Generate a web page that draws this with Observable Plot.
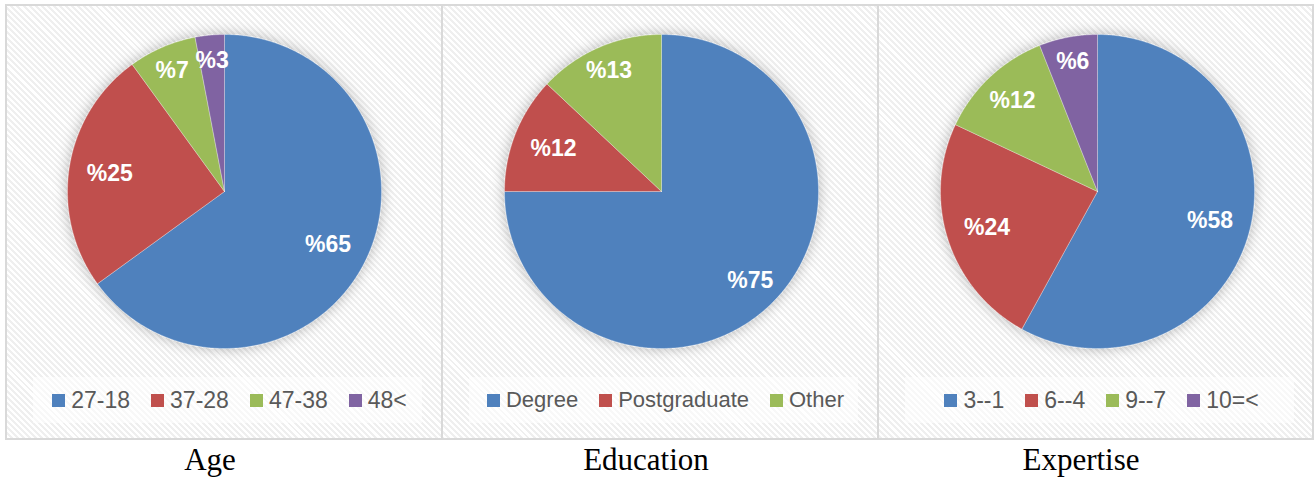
<!DOCTYPE html>
<html><head><meta charset="utf-8">
<script src="https://cdn.jsdelivr.net/npm/d3@7"></script>
<script src="https://cdn.jsdelivr.net/npm/@observablehq/plot@0.6"></script>
<style>
html,body{margin:0;padding:0;background:#fff;}
body{width:1315px;height:479px;position:relative;overflow:hidden;font-family:"Liberation Sans",Arial,sans-serif;}
#frame{position:absolute;left:5px;top:4px;width:1309px;height:436px;box-sizing:border-box;border:2px solid #d9d9d9;
 background:repeating-linear-gradient(45deg,#ffffff 0px,#ffffff 2.2px,#efefef 2.2px,#efefef 4.3px);}
.div{position:absolute;top:4px;width:2px;height:436px;background:#d9d9d9;}
.panel{position:absolute;top:6px;width:435px;height:432px;}
.panel svg{position:absolute;left:0;top:0;}
.legbox{position:absolute;left:26px;top:371px;width:389px;height:46px;background:rgba(255,255,255,0.55);}
.legend{position:absolute;left:10px;width:425px;top:381px;height:26px;display:flex;justify-content:center;align-items:center;gap:21px;color:#595959;font-size:23px;}
.item{display:flex;align-items:center;white-space:nowrap;}
.sw{width:13px;height:13px;margin-right:6px;flex:none;}
.title{position:absolute;top:444px;width:240px;text-align:center;font-family:"Liberation Serif","Times New Roman",serif;font-size:31px;line-height:31px;color:#000;}
</style>
</head><body>
<div id="frame"></div>
<div class="div" style="left:441px"></div>
<div class="div" style="left:877px"></div>
<script>
// ---- data ----
const titles = ["Age", "Education", "Expertise"];
const ageCats = ["27-18", "37-28", "47-38", "48<"];
const ageVals = [65, 25, 7, 3];
const eduCats = ["Degree", "Postgraduate", "Other"];
const eduVals = [75, 12, 13];
const expCats = ["3--1", "6--4", "9--7", "10=<"];
const expVals = [58, 24, 12, 6];
const palette = ["#4f81bd", "#c0504d", "#9bbb59", "#8064a2"];

const charts = [
  {title: titles[0], cats: ageCats, vals: ageVals, legendFont: 23},
  {title: titles[1], cats: eduCats, vals: eduVals, legendFont: 22},
  {title: titles[2], cats: expCats, vals: expVals, legendFont: 23}
];

const panelLefts = [7, 443, 879];
const titleCenters = [210, 646, 1081];
const R = 157, CY = 185;

function buildSlices(cats, vals) {
  const total = d3.sum(vals);
  let acc = 0;
  const pts = [], labels = [];
  cats.forEach((c, i) => {
    const a0 = acc / total * 2 * Math.PI;
    acc += vals[i];
    const a1 = acc / total * 2 * Math.PI;
    const n = Math.max(2, Math.ceil((a1 - a0) / (Math.PI / 360)));
    pts.push({cat: c, x: 0, y: 0});
    for (let k = 0; k <= n; k++) {
      const a = a0 + (a1 - a0) * k / n;
      pts.push({cat: c, x: Math.sin(a), y: Math.cos(a)});
    }
    pts.push({cat: c, x: 0, y: 0});
    const m = (a0 + a1) / 2, deg = m * 180 / Math.PI;
    const f = deg >= 330 ? 0.84 : deg >= 310 ? 0.79 : (deg > 120 && deg < 150 ? 0.8 : 0.74);
    labels.push({cat: c, x: f * Math.sin(m), y: f * Math.cos(m), text: "%" + vals[i]});
  });
  return {pts, labels};
}

const ns = "http://www.w3.org/2000/svg";
charts.forEach((ch, i) => {
  const panel = document.createElement("div");
  panel.className = "panel";
  panel.style.left = panelLefts[i] + "px";
  document.body.appendChild(panel);

  const lb = document.createElement("div");
  lb.className = "legbox";
  panel.appendChild(lb);

  const cx = 217 + (i > 0 ? 1 : 0);
  const {pts, labels} = buildSlices(ch.cats, ch.vals);
  const svg = Plot.plot({
    width: 435, height: 370, margin: 0,
    x: {domain: [-1, 1], range: [cx - R, cx + R], axis: null},
    y: {domain: [-1, 1], range: [CY + R, CY - R], axis: null},
    color: {domain: ch.cats, range: palette.slice(0, ch.cats.length)},
    style: {background: "transparent", overflow: "visible"},
    marks: [
      Plot.line(pts, {x: "x", y: "y", z: "cat", fill: "cat", stroke: "#ffffff", strokeWidth: 0.5, strokeOpacity: 0.6, curve: "linear"}),
      Plot.text(labels, {x: "x", y: "y", text: "text", fill: "white", fontSize: 23, fontWeight: "bold",
        fontFamily: "'Liberation Sans', Arial, sans-serif"})
    ]
  });
  // soft glow shadow behind pie
  const defs = document.createElementNS(ns, "defs");
  const filt = document.createElementNS(ns, "filter");
  filt.setAttribute("id", "sh" + i);
  filt.setAttribute("x", "-30%"); filt.setAttribute("y", "-30%");
  filt.setAttribute("width", "160%"); filt.setAttribute("height", "160%");
  const ds = document.createElementNS(ns, "feDropShadow");
  ds.setAttribute("dx", "0"); ds.setAttribute("dy", "0");
  ds.setAttribute("stdDeviation", "7");
  ds.setAttribute("flood-color", "#000"); ds.setAttribute("flood-opacity", "0.28");
  filt.appendChild(ds); defs.appendChild(filt);
  svg.insertBefore(defs, svg.firstChild);
  const g = svg.querySelector('g[aria-label="line"]');
  if (g) g.setAttribute("filter", "url(#sh" + i + ")");
  panel.appendChild(svg);

  const leg = document.createElement("div");
  leg.className = "legend";
  leg.style.fontSize = ch.legendFont + "px";
  ch.cats.forEach((c, j) => {
    const it = document.createElement("div");
    it.className = "item";
    const sw = document.createElement("span");
    sw.className = "sw";
    sw.style.background = palette[j];
    const tx = document.createElement("span");
    tx.textContent = c;
    it.appendChild(sw); it.appendChild(tx);
    leg.appendChild(it);
  });
  panel.appendChild(leg);

  const t = document.createElement("div");
  t.className = "title";
  t.style.left = (titleCenters[i] - 120) + "px";
  t.textContent = ch.title;
  document.body.appendChild(t);
});
</script>
</body></html>
